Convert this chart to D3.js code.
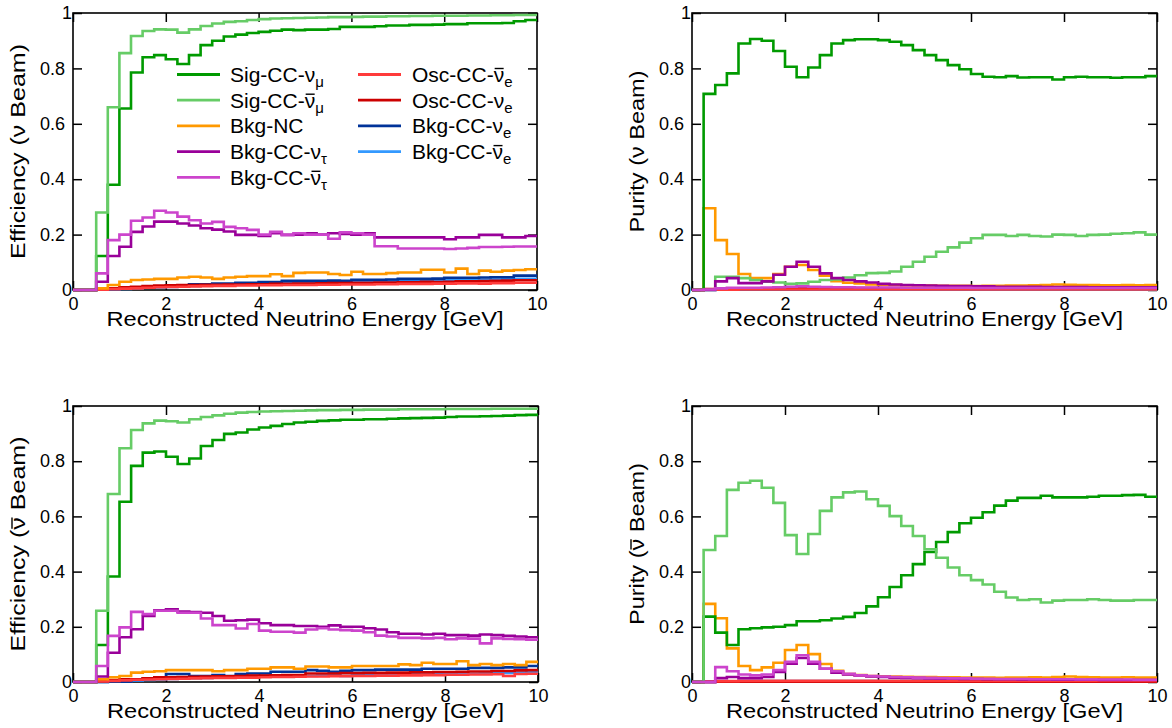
<!DOCTYPE html>
<html><head><meta charset="utf-8">
<script src="https://cdn.jsdelivr.net/npm/d3@7"></script>
<style>body{margin:0;background:#fff}svg{display:block}text{font-family:"Liberation Sans",Arial,Helvetica,sans-serif}</style>
</head><body><svg id="c" width="1172" height="728"></svg>
<script>
// ---------- data ----------
const binEdges=[0,0.25,0.5,0.75,1,1.25,1.5,1.75,2,2.25,2.5,2.75,3,3.25,3.5,3.75,4,4.25,4.5,4.75,5,5.25,5.5,5.75,6,6.25,6.5,6.75,7,7.25,7.5,7.75,8,8.25,8.5,8.75,9,9.25,9.5,9.75,10];
const xTicks=[0,2,4,6,8,10];
const yTicks=[0,0.2,0.4,0.6,0.8,1];
const xTitle="Reconstructed Neutrino Energy [GeV]";

const seriesKeys=["sigNumu","sigNumubar","bkgNC","bkgNutau","bkgNutaubar","oscNuebar","oscNue","bkgNue","bkgNuebar"];
const seriesColors=["#009a00","#66cc66","#ff9900","#990099","#cc44cc","#ff3b3b","#cc0000","#003399","#3399ff"];
const legendBase=["Sig-CC-","Sig-CC-","Bkg-NC","Bkg-CC-","Bkg-CC-","Osc-CC-","Osc-CC-","Bkg-CC-","Bkg-CC-"];
const legendGreek=["ν","ν","","ν","ν","ν","ν","ν","ν"];
const legendBar=[false,true,false,false,true,true,false,false,true];
const legendSub=["μ","μ","","τ","τ","e","e","e","e"];
const drawOrder=["bkgNuebar","bkgNue","oscNue","oscNuebar","bkgNC","sigNumu","sigNumubar","bkgNutau","bkgNutaubar"];

// Panel 1: Efficiency, nu beam
const effNu_sigNumu=[0,0,0.123,0.38,0.655,0.785,0.84,0.848,0.833,0.816,0.848,0.884,0.9,0.915,0.922,0.928,0.932,0.936,0.94,0.938,0.94,0.94,0.942,0.95,0.95,0.95,0.952,0.955,0.955,0.957,0.957,0.958,0.96,0.96,0.963,0.963,0.963,0.964,0.97,0.975];
const effNu_sigNumubar=[0,0,0.28,0.66,0.855,0.917,0.935,0.941,0.94,0.929,0.941,0.953,0.962,0.968,0.97,0.975,0.978,0.98,0.981,0.982,0.983,0.984,0.985,0.985,0.986,0.987,0.987,0.988,0.988,0.989,0.989,0.99,0.99,0.99,0.991,0.991,0.992,0.992,0.993,0.993];
const effNu_bkgNC=[0,0,0.006,0.018,0.03,0.036,0.038,0.04,0.04,0.045,0.048,0.045,0.04,0.045,0.048,0.05,0.05,0.057,0.05,0.062,0.063,0.063,0.058,0.054,0.066,0.058,0.058,0.061,0.063,0.063,0.073,0.073,0.063,0.077,0.058,0.07,0.066,0.07,0.072,0.075];
const effNu_bkgNutau=[0,0,0.03,0.123,0.156,0.21,0.229,0.247,0.247,0.24,0.233,0.223,0.218,0.211,0.199,0.199,0.195,0.205,0.199,0.2,0.205,0.2,0.205,0.202,0.2,0.205,0.19,0.19,0.19,0.19,0.19,0.19,0.183,0.19,0.19,0.199,0.199,0.19,0.19,0.195];
const effNu_bkgNutaubar=[0,0,0.06,0.18,0.2,0.25,0.262,0.286,0.28,0.265,0.252,0.24,0.246,0.228,0.223,0.217,0.2,0.21,0.199,0.205,0.2,0.2,0.185,0.208,0.205,0.2,0.158,0.158,0.15,0.15,0.15,0.15,0.148,0.15,0.152,0.155,0.155,0.156,0.157,0.157];
const effNu_oscNuebar=[0,0,0.001,0.003,0.005,0.006,0.008,0.01,0.011,0.012,0.013,0.014,0.015,0.015,0.016,0.016,0.017,0.017,0.018,0.018,0.018,0.019,0.019,0.02,0.02,0.02,0.021,0.021,0.022,0.022,0.022,0.023,0.023,0.024,0.024,0.023,0.025,0.025,0.026,0.026];
const effNu_oscNue=[0,0,0.002,0.006,0.01,0.012,0.014,0.016,0.017,0.018,0.018,0.019,0.019,0.02,0.02,0.021,0.021,0.022,0.022,0.023,0.023,0.024,0.025,0.025,0.026,0.026,0.027,0.027,0.028,0.028,0.03,0.029,0.03,0.031,0.031,0.032,0.033,0.034,0.035,0.035];
const effNu_bkgNue=[0,0,0.001,0.003,0.005,0.007,0.009,0.011,0.012,0.014,0.021,0.021,0.023,0.023,0.026,0.026,0.029,0.029,0.033,0.033,0.033,0.033,0.034,0.033,0.037,0.037,0.037,0.038,0.04,0.04,0.04,0.041,0.044,0.044,0.044,0.045,0.046,0.046,0.052,0.052];
const effNu_bkgNuebar=[0,0,0.001,0.002,0.004,0.006,0.008,0.01,0.011,0.013,0.015,0.016,0.017,0.018,0.02,0.021,0.022,0.023,0.024,0.025,0.026,0.027,0.028,0.028,0.029,0.03,0.031,0.031,0.032,0.033,0.033,0.034,0.035,0.036,0.036,0.037,0.038,0.039,0.04,0.04];

// Panel 2: Purity, nu beam
const purNu_sigNumu=[0,0.708,0.74,0.782,0.89,0.906,0.9,0.863,0.806,0.768,0.803,0.848,0.89,0.902,0.905,0.905,0.902,0.896,0.884,0.866,0.848,0.83,0.812,0.797,0.78,0.77,0.768,0.772,0.767,0.768,0.768,0.76,0.768,0.77,0.768,0.768,0.766,0.768,0.768,0.772];
const purNu_sigNumubar=[0,0,0.048,0.048,0.043,0.036,0.03,0.027,0.022,0.024,0.03,0.036,0.038,0.045,0.053,0.061,0.062,0.067,0.084,0.102,0.12,0.138,0.154,0.171,0.187,0.199,0.199,0.195,0.199,0.195,0.193,0.2,0.199,0.195,0.199,0.2,0.203,0.205,0.208,0.2];
const purNu_bkgNC=[0,0.295,0.18,0.13,0.058,0.043,0.043,0.058,0.084,0.09,0.072,0.052,0.032,0.026,0.024,0.02,0.019,0.018,0.017,0.016,0.016,0.015,0.015,0.015,0.014,0.015,0.015,0.016,0.016,0.017,0.018,0.02,0.019,0.018,0.018,0.017,0.017,0.018,0.017,0.018];
const purNu_bkgNutau=[0,0,0.031,0.043,0.025,0.025,0.031,0.055,0.084,0.102,0.084,0.06,0.043,0.036,0.031,0.027,0.022,0.02,0.018,0.017,0.016,0.015,0.014,0.014,0.013,0.013,0.012,0.012,0.012,0.012,0.011,0.011,0.011,0.011,0.01,0.01,0.01,0.01,0.01,0.01];
const purNu_bkgNutaubar=[0,0.002,0.006,0.008,0.008,0.008,0.009,0.01,0.012,0.013,0.012,0.011,0.01,0.01,0.009,0.009,0.009,0.009,0.008,0.008,0.008,0.008,0.008,0.008,0.007,0.007,0.007,0.007,0.007,0.007,0.007,0.007,0.007,0.007,0.007,0.007,0.007,0.007,0.007,0.007];
const purNu_oscNuebar=[0,0.001,0.001,0.001,0.002,0.002,0.002,0.002,0.002,0.002,0.002,0.002,0.002,0.002,0.002,0.002,0.002,0.002,0.002,0.002,0.002,0.002,0.002,0.002,0.002,0.002,0.002,0.002,0.002,0.002,0.002,0.002,0.002,0.002,0.002,0.002,0.002,0.002,0.002,0.002];
const purNu_oscNue=[0,0.003,0.004,0.005,0.005,0.006,0.006,0.007,0.007,0.007,0.007,0.007,0.007,0.007,0.007,0.007,0.007,0.007,0.007,0.007,0.007,0.006,0.006,0.006,0.006,0.006,0.006,0.006,0.006,0.006,0.006,0.006,0.006,0.006,0.006,0.006,0.006,0.006,0.006,0.006];
const purNu_bkgNue=[0,0.001,0.002,0.002,0.003,0.003,0.003,0.003,0.003,0.003,0.004,0.004,0.004,0.004,0.004,0.004,0.004,0.004,0.004,0.004,0.004,0.004,0.004,0.004,0.004,0.004,0.004,0.004,0.004,0.004,0.004,0.004,0.004,0.004,0.004,0.004,0.004,0.004,0.004,0.004];
const purNu_bkgNuebar=[0,0,0.001,0.001,0.001,0.001,0.001,0.001,0.001,0.001,0.001,0.001,0.001,0.001,0.001,0.001,0.001,0.001,0.001,0.001,0.001,0.001,0.001,0.001,0.001,0.001,0.001,0.001,0.001,0.001,0.001,0.001,0.001,0.001,0.001,0.001,0.001,0.001,0.001,0.001];

// Panel 3: Efficiency, anti-nu beam
const effNubar_sigNumu=[0,0,0.134,0.382,0.653,0.783,0.831,0.835,0.816,0.79,0.81,0.855,0.877,0.899,0.904,0.915,0.922,0.928,0.935,0.94,0.943,0.946,0.948,0.95,0.95,0.952,0.952,0.954,0.955,0.956,0.957,0.958,0.96,0.962,0.962,0.963,0.964,0.965,0.967,0.968];
const effNubar_sigNumubar=[0,0,0.258,0.681,0.847,0.913,0.937,0.947,0.945,0.94,0.952,0.96,0.966,0.972,0.976,0.978,0.98,0.981,0.982,0.983,0.984,0.985,0.985,0.986,0.986,0.987,0.987,0.987,0.988,0.988,0.988,0.988,0.989,0.989,0.989,0.989,0.99,0.99,0.99,0.99];
const effNubar_bkgNC=[0,0,0.01,0.017,0.022,0.034,0.037,0.039,0.043,0.043,0.043,0.043,0.039,0.043,0.043,0.048,0.048,0.053,0.053,0.048,0.056,0.056,0.053,0.053,0.058,0.058,0.058,0.058,0.064,0.061,0.07,0.065,0.065,0.075,0.061,0.065,0.061,0.065,0.061,0.073];
const effNubar_bkgNutau=[0,0,0.02,0.106,0.162,0.191,0.239,0.26,0.263,0.255,0.253,0.251,0.239,0.222,0.224,0.226,0.213,0.206,0.206,0.203,0.203,0.2,0.205,0.2,0.2,0.195,0.19,0.18,0.175,0.175,0.172,0.175,0.17,0.17,0.168,0.172,0.17,0.167,0.165,0.162];
const effNubar_bkgNutaubar=[0,0,0.058,0.167,0.198,0.254,0.246,0.258,0.258,0.251,0.251,0.23,0.206,0.206,0.194,0.21,0.186,0.182,0.182,0.179,0.19,0.195,0.19,0.188,0.186,0.18,0.168,0.165,0.16,0.16,0.158,0.16,0.155,0.158,0.157,0.14,0.158,0.156,0.155,0.153];
const effNubar_oscNuebar=[0,0,0.002,0.004,0.006,0.008,0.009,0.01,0.011,0.012,0.013,0.014,0.015,0.015,0.016,0.016,0.017,0.018,0.018,0.019,0.02,0.02,0.021,0.021,0.022,0.022,0.023,0.023,0.024,0.024,0.025,0.025,0.026,0.026,0.027,0.027,0.028,0.022,0.029,0.03];
const effNubar_oscNue=[0,0,0.003,0.007,0.01,0.01,0.013,0.017,0.017,0.018,0.019,0.02,0.021,0.021,0.022,0.023,0.023,0.024,0.025,0.025,0.031,0.031,0.031,0.032,0.032,0.033,0.033,0.034,0.034,0.035,0.035,0.036,0.036,0.037,0.038,0.038,0.04,0.04,0.042,0.043];
const effNubar_bkgNue=[0,0,0,0.001,0.001,0.007,0.013,0.017,0.029,0.029,0.022,0.022,0.025,0.022,0.029,0.031,0.031,0.037,0.037,0.037,0.043,0.041,0.037,0.041,0.043,0.043,0.045,0.045,0.045,0.045,0.048,0.048,0.048,0.048,0.051,0.051,0.051,0.053,0.053,0.058];
const effNubar_bkgNuebar=[0,0,0,0.001,0.003,0.005,0.007,0.009,0.011,0.013,0.014,0.015,0.016,0.017,0.018,0.019,0.02,0.021,0.021,0.022,0.022,0.023,0.023,0.022,0.024,0.025,0.025,0.025,0.026,0.027,0.027,0.028,0.029,0.03,0.03,0.031,0.032,0.033,0.034,0.035];

// Panel 4: Purity, anti-nu beam
const purNubar_sigNumu=[0,0.237,0.179,0.134,0.191,0.195,0.198,0.2,0.206,0.22,0.22,0.224,0.23,0.236,0.25,0.274,0.307,0.344,0.387,0.427,0.471,0.507,0.543,0.575,0.595,0.615,0.639,0.657,0.667,0.667,0.675,0.669,0.669,0.669,0.671,0.675,0.675,0.677,0.678,0.671];
const purNubar_sigNumubar=[0,0.478,0.529,0.696,0.722,0.729,0.704,0.649,0.532,0.464,0.536,0.62,0.669,0.687,0.69,0.662,0.638,0.601,0.565,0.529,0.481,0.45,0.415,0.387,0.369,0.353,0.327,0.306,0.297,0.3,0.288,0.295,0.297,0.297,0.3,0.297,0.295,0.295,0.297,0.297];
const purNubar_bkgNC=[0,0.283,0.231,0.122,0.058,0.043,0.053,0.07,0.116,0.134,0.101,0.065,0.041,0.029,0.025,0.022,0.021,0.02,0.019,0.018,0.018,0.017,0.017,0.016,0.016,0.016,0.015,0.016,0.016,0.017,0.016,0.018,0.02,0.018,0.017,0.016,0.016,0.017,0.016,0.016];
const purNubar_bkgNutau=[0,0,0.014,0.018,0.014,0.014,0.018,0.036,0.066,0.087,0.066,0.048,0.034,0.027,0.024,0.02,0.018,0.016,0.015,0.014,0.013,0.012,0.012,0.011,0.011,0.01,0.01,0.01,0.009,0.009,0.009,0.008,0.008,0.008,0.008,0.007,0.007,0.007,0.007,0.007];
const purNubar_bkgNutaubar=[0,0,0.054,0.039,0.027,0.024,0.027,0.043,0.073,0.097,0.073,0.048,0.039,0.03,0.024,0.022,0.02,0.018,0.017,0.016,0.015,0.014,0.013,0.013,0.012,0.012,0.011,0.011,0.011,0.01,0.01,0.01,0.01,0.009,0.009,0.009,0.009,0.009,0.008,0.008];
const purNubar_oscNuebar=[0,0.002,0.003,0.003,0.004,0.004,0.004,0.004,0.004,0.004,0.004,0.004,0.004,0.004,0.004,0.004,0.004,0.004,0.004,0.004,0.004,0.004,0.004,0.004,0.004,0.004,0.004,0.004,0.004,0.004,0.004,0.004,0.004,0.004,0.004,0.004,0.004,0.004,0.004,0.004];
const purNubar_oscNue=[0,0,0.001,0.001,0.001,0.001,0.001,0.001,0.001,0.001,0.001,0.001,0.001,0.001,0.001,0.001,0.001,0.001,0.001,0.001,0.001,0.001,0.001,0.001,0.001,0.001,0.001,0.001,0.001,0.001,0.001,0.001,0.001,0.001,0.001,0.001,0.001,0.001,0.001,0.001];
const purNubar_bkgNue=[0,0,0.001,0.001,0.001,0.001,0.001,0.001,0.001,0.001,0.001,0.001,0.001,0.001,0.001,0.001,0.001,0.001,0.001,0.001,0.001,0.001,0.001,0.001,0.001,0.001,0.001,0.001,0.001,0.001,0.001,0.001,0.001,0.001,0.001,0.001,0.001,0.001,0.001,0.001];
const purNubar_bkgNuebar=[0,0.001,0.002,0.002,0.003,0.003,0.003,0.003,0.003,0.003,0.003,0.003,0.003,0.003,0.003,0.003,0.003,0.003,0.003,0.003,0.003,0.003,0.003,0.003,0.003,0.003,0.003,0.003,0.003,0.003,0.003,0.003,0.003,0.003,0.003,0.003,0.003,0.003,0.003,0.003];

const panelTitles=["Efficiency (ν Beam)","Purity (ν Beam)","Efficiency (ν Beam)","Purity (ν Beam)"];
const panelTitleBar=[false,false,true,true];

// ---------- build ----------
const panels=[
 {title:panelTitles[0],bar:panelTitleBar[0],legend:true,box:[73,537,13,290],titleLen:215,
  s:{sigNumu:effNu_sigNumu,sigNumubar:effNu_sigNumubar,bkgNC:effNu_bkgNC,bkgNutau:effNu_bkgNutau,bkgNutaubar:effNu_bkgNutaubar,oscNuebar:effNu_oscNuebar,oscNue:effNu_oscNue,bkgNue:effNu_bkgNue,bkgNuebar:effNu_bkgNuebar}},
 {title:panelTitles[1],bar:panelTitleBar[1],legend:false,box:[692,1157,13,290],titleLen:162,
  s:{sigNumu:purNu_sigNumu,sigNumubar:purNu_sigNumubar,bkgNC:purNu_bkgNC,bkgNutau:purNu_bkgNutau,bkgNutaubar:purNu_bkgNutaubar,oscNuebar:purNu_oscNuebar,oscNue:purNu_oscNue,bkgNue:purNu_bkgNue,bkgNuebar:purNu_bkgNuebar}},
 {title:panelTitles[2],bar:panelTitleBar[2],legend:false,box:[73,538,406,682],titleLen:215,
  s:{sigNumu:effNubar_sigNumu,sigNumubar:effNubar_sigNumubar,bkgNC:effNubar_bkgNC,bkgNutau:effNubar_bkgNutau,bkgNutaubar:effNubar_bkgNutaubar,oscNuebar:effNubar_oscNuebar,oscNue:effNubar_oscNue,bkgNue:effNubar_bkgNue,bkgNuebar:effNubar_bkgNuebar}},
 {title:panelTitles[3],bar:panelTitleBar[3],legend:false,box:[692,1157,406,682],titleLen:162,
  s:{sigNumu:purNubar_sigNumu,sigNumubar:purNubar_sigNumubar,bkgNC:purNubar_bkgNC,bkgNutau:purNubar_bkgNutau,bkgNutaubar:purNubar_bkgNutaubar,oscNuebar:purNubar_oscNuebar,oscNue:purNubar_oscNue,bkgNue:purNubar_bkgNue,bkgNuebar:purNubar_bkgNuebar}}
];
const color=d3.scaleOrdinal().domain(seriesKeys).range(seriesColors);
const svg=d3.select("#c");
const FONT='"Liberation Sans",Arial,Helvetica,sans-serif';

function overlineChar(textSel, idx, g, yOff){
  const node=textSel.node();
  const e=node.getExtentOfChar(idx);
  g.append("line").attr("x1",e.x+1).attr("x2",e.x+e.width-0.5)
   .attr("y1",yOff).attr("y2",yOff).attr("stroke","#000").attr("stroke-width",1.4);
}

panels.forEach(p=>{
  const [l,r,t,b]=p.box;
  const x=d3.scaleLinear().domain([0,10]).range([l,r]);
  const y=d3.scaleLinear().domain([0,1]).range([b,t]);
  const g=svg.append("g");
  g.append("rect").attr("x",l).attr("y",t).attr("width",r-l).attr("height",b-t)
    .attr("fill","none").attr("stroke","#000").attr("stroke-width",1.6);
  const styleAxis=sel=>{sel.select(".domain").remove();
    sel.selectAll(".tick line").attr("stroke","#000").attr("stroke-width",1.5);
    sel.selectAll("text").attr("font-family",FONT).attr("font-size",18).attr("fill","#000");};
  g.append("g").attr("transform",`translate(0,${b})`)
   .call(d3.axisBottom(x).tickValues(xTicks).tickSize(-9).tickSizeOuter(0).tickPadding(7).tickFormat(d3.format("d"))).call(styleAxis);
  g.append("g").attr("transform",`translate(0,${t})`)
   .call(d3.axisTop(x).tickValues(xTicks).tickSize(-9).tickSizeOuter(0).tickFormat("")).call(styleAxis);
  const yl=g.append("g").attr("transform",`translate(${l},0)`)
   .call(d3.axisLeft(y).tickValues(yTicks).tickSize(-9).tickSizeOuter(0).tickPadding(8).tickFormat(d=>(d===0||d===1)?d3.format("d")(d):d3.format(".1f")(d))).call(styleAxis);
  yl.selectAll(".tick text").attr("x",d=>(d===0||d===1)?-1:-8);
  g.append("g").attr("transform",`translate(${r},0)`)
   .call(d3.axisRight(y).tickValues(yTicks).tickSize(-9).tickSizeOuter(0).tickFormat("")).call(styleAxis);

  // histograms
  const line=d3.line().x(d=>x(d[0])).y(d=>y(d[1])).curve(d3.curveStepAfter);
  drawOrder.forEach(k=>{
    const v=p.s[k];
    const pts=v.map((val,i)=>[binEdges[i],val]);
    pts.push([binEdges[v.length],v[v.length-1]]);
    g.append("path").attr("d",line(pts)).attr("fill","none")
     .attr("stroke",color(k)).attr("stroke-width",2.6).attr("stroke-linejoin","miter");
  });

  // x title
  g.append("text").attr("x",(l+r)/2).attr("y",b+36).attr("text-anchor","middle")
   .attr("font-size",21).attr("textLength",397).attr("lengthAdjust","spacingAndGlyphs").text(xTitle);
  // y title
  const yg=g.append("g").attr("transform",`translate(${l-48},${(t+b)/2}) rotate(-90)`);
  const yt=yg.append("text").attr("x",0).attr("y",0).attr("text-anchor","middle")
   .attr("font-size",21).attr("textLength",p.titleLen).attr("lengthAdjust","spacingAndGlyphs").text(p.title);
  if(p.bar) overlineChar(yt,p.title.indexOf("ν"),yg,-13);

  if(p.legend){
    const rows=[74.5,100.2,125.9,151.6,177.3];
    seriesKeys.forEach((k,i)=>{
      const col=i<5?0:1, row=i<5?i:i-5;
      const lx=col===0?177:358, tx=col===0?230:412, ly=rows[row];
      g.append("line").attr("x1",lx).attr("x2",lx+43).attr("y1",ly).attr("y2",ly)
       .attr("stroke",color(k)).attr("stroke-width",2.8);
      const tg=g.append("g");
      const tt=tg.append("text").attr("x",tx).attr("y",ly+7.5).attr("font-size",21).attr("fill","#000");
      tt.append("tspan").text(legendBase[i]);
      if(legendGreek[i]) tt.append("tspan").text(legendGreek[i]);
      if(legendSub[i]) tt.append("tspan").attr("font-size",15).attr("dy",5).text(legendSub[i]);
      if(legendBar[i]) overlineChar(tt,legendBase[i].length,tg,ly+7.5-13.5);
    });
  }
});
</script></body></html>
